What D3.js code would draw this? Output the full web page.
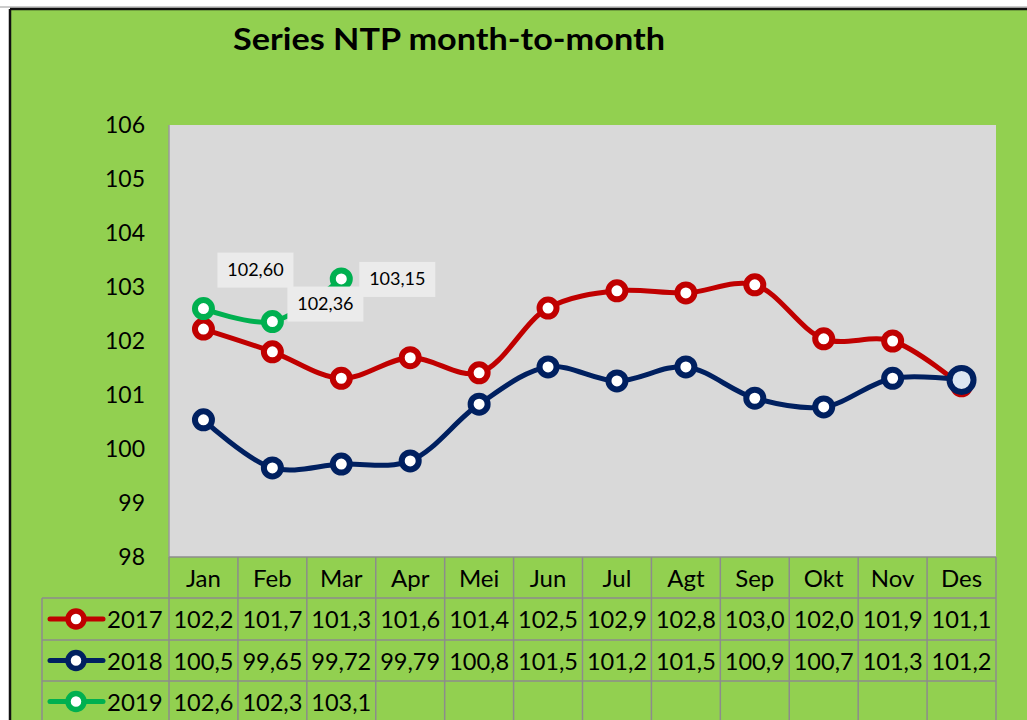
<!DOCTYPE html>
<html>
<head>
<meta charset="utf-8">
<script src="https://d3js.org/d3.v7.min.js"></script>
<style>
  body { margin: 0; background: #fff; }
  svg { display: block; font-family: Lato, "Open Sans", sans-serif; }
</style>
</head>
<body>
<script>
// chart data
var months = ["Jan", "Feb", "Mar", "Apr", "Mei", "Jun", "Jul", "Agt", "Sep", "Okt", "Nov", "Des"];
var years = ["2017", "2018", "2019"];
var v2017 = [102.22, 101.80, 101.31, 101.69, 101.41, 102.61, 102.93, 102.89, 103.04, 102.04, 102.00, 101.17];
var v2018 = [100.54, 99.65, 99.72, 99.78, 100.83, 101.52, 101.26, 101.52, 100.94, 100.78, 101.31, 101.28];
var v2019 = [102.60, 102.36, 103.15];
// table text as shown in the data table
var t2017 = ["102,2", "101,7", "101,3", "101,6", "101,4", "102,5", "102,9", "102,8", "103,0", "102,0", "101,9", "101,1"];
var t2018 = ["100,5", "99,65", "99,72", "99,79", "100,8", "101,5", "101,2", "101,5", "100,9", "100,7", "101,3", "101,2"];
var t2019 = ["102,6", "102,3", "103,1"];
var labels2019 = ["102,60", "102,36", "103,15"];
var yTicks = [98, 99, 100, 101, 102, 103, 104, 105, 106];

var W = 1027, H = 720;
var colors = ["#c00000", "#002060", "#00b050"];
var series = [v2017, v2018, v2019];
var tables = [t2017, t2018, t2019];

var svg = d3.select("body").append("svg").attr("width", W).attr("height", H);

// background + frame
svg.append("rect").attr("x", 0).attr("y", 0).attr("width", W).attr("height", H).attr("fill", "#fff");
svg.append("rect").attr("x", 10).attr("y", 9).attr("width", W).attr("height", H).attr("fill", "#92d050");
svg.append("line").attr("x1", 0).attr("x2", W).attr("y1", 7).attr("y2", 7).attr("stroke", "#bbb").attr("stroke-width", 1.5);
svg.append("line").attr("x1", 10).attr("x2", W).attr("y1", 9).attr("y2", 9).attr("stroke", "#111").attr("stroke-width", 2.5);
svg.append("line").attr("x1", 10).attr("x2", 10).attr("y1", 9).attr("y2", H).attr("stroke", "#111").attr("stroke-width", 2.5);

svg.append("text").attr("x", 233).attr("y", 50)
  .attr("font-size", 31).attr("font-weight", "bold").attr("fill", "#000")
  .attr("textLength", 432).attr("lengthAdjust", "spacingAndGlyphs")
  .text("Series NTP month-to-month");

var pLeft = 169, pRight = 996, pTop = 125, pBottom = 557;
var x = d3.scaleBand().domain(months).range([pLeft, pRight]);
var y = d3.scaleLinear().domain([98, 106]).range([pBottom, pTop]);

svg.append("rect").attr("x", pLeft).attr("y", pTop).attr("width", pRight - pLeft).attr("height", pBottom - pTop)
  .attr("fill", "#d9d9d9");
svg.append("line").attr("x1", pLeft).attr("x2", pLeft).attr("y1", pTop).attr("y2", pBottom).attr("stroke", "#9a9a9a").attr("stroke-width", 1.5);

// y axis
var yAxis = svg.append("g").attr("transform", "translate(" + (pLeft - 24) + ",0)")
  .call(d3.axisLeft(y).tickValues(yTicks).tickSize(0).tickPadding(0).tickFormat(d3.format("d")));
yAxis.select(".domain").remove();
yAxis.selectAll("text").attr("font-size", 23).attr("font-family", "Lato, sans-serif").attr("fill", "#000");

// data table
var rowY = [557, 598, 640, 681, 722];
var gridColor = "#8c8c8c";
var tbl = svg.append("g");
// header row
tbl.selectAll("text.month").data(months).enter().append("text")
  .attr("x", function(d) { return x(d) + x.bandwidth() / 2; })
  .attr("y", (rowY[0] + rowY[1]) / 2 + 9)
  .attr("text-anchor", "middle").attr("font-size", 24).text(function(d) { return d; });
// horizontal lines
tbl.selectAll("line.h").data(rowY.slice(0, 4)).enter().append("line")
  .attr("x1", function(d, i) { return i === 0 ? pLeft : 42; }).attr("x2", pRight)
  .attr("y1", function(d) { return d; }).attr("y2", function(d) { return d; })
  .attr("stroke", gridColor).attr("stroke-width", 1.5);
// vertical lines
var vx = months.map(function(m) { return x(m); }).concat([pRight]);
tbl.selectAll("line.v").data(vx).enter().append("line")
  .attr("x1", function(d) { return d; }).attr("x2", function(d) { return d; })
  .attr("y1", rowY[0]).attr("y2", H).attr("stroke", gridColor).attr("stroke-width", 1.5);
tbl.append("line").attr("x1", 42).attr("x2", 42).attr("y1", rowY[1]).attr("y2", H)
  .attr("stroke", gridColor).attr("stroke-width", 1.5);

years.forEach(function(yr, i) {
  var cy = (rowY[i + 1] + rowY[i + 2]) / 2;
  var g = tbl.append("g");
  g.append("line").attr("x1", 50).attr("x2", 103).attr("y1", cy).attr("y2", cy)
    .attr("stroke", colors[i]).attr("stroke-width", 5).attr("stroke-linecap", "round");
  g.append("circle").attr("cx", 76).attr("cy", cy).attr("r", 8).attr("fill", "#fff")
    .attr("stroke", colors[i]).attr("stroke-width", 5.5);
  g.append("text").attr("x", 107).attr("y", cy + 9).attr("font-size", 24).text(yr);
  g.selectAll("text.val").data(tables[i]).enter().append("text")
    .attr("x", function(d, j) { return x(months[j]) + x.bandwidth() / 2; })
    .attr("y", cy + 9).attr("text-anchor", "middle").attr("font-size", 24)
    .attr("textLength", function(d) { return d.length * 12; }).attr("lengthAdjust", "spacingAndGlyphs")
    .text(function(d) { return d; });
});

// lines
var line = d3.line()
  .x(function(d, i) { return x(months[i]) + x.bandwidth() / 2; })
  .y(function(d) { return y(d); })
  .curve(d3.curveCatmullRom.alpha(0.5));

series.forEach(function(s, i) {
  svg.append("path").datum(s).attr("d", line).attr("fill", "none")
    .attr("stroke", colors[i]).attr("stroke-width", 5).attr("stroke-linejoin", "round");
  svg.selectAll(null).data(s).enter().append("circle")
    .attr("cx", function(d, j) { return x(months[j]) + x.bandwidth() / 2; })
    .attr("cy", function(d) { return y(d); })
    .attr("r", function(d, j) { return (i === 1 && j === 11) ? 12 : 8.5; })
    .attr("fill", function(d, j) { return (i === 1 && j === 11) ? "#dce6f2" : "#fff"; })
    .attr("stroke", colors[i]).attr("stroke-width", 6);
});

// 2019 data labels (manually placed boxes)
var labelOffsets = [[14, -56], [15, -35], [18, -17]];
var boxW = 76, boxH = 35;
labels2019.forEach(function(t, j) {
  var px = x(months[j]) + x.bandwidth() / 2, py = y(v2019[j]);
  var bx = px + labelOffsets[j][0], by = py + labelOffsets[j][1];
  svg.append("rect").attr("x", bx).attr("y", by).attr("width", boxW).attr("height", boxH).attr("fill", "#ebebeb");
  svg.append("text").attr("x", bx + boxW / 2).attr("y", by + boxH / 2 + 6).attr("text-anchor", "middle")
    .attr("font-size", 18).attr("fill", "#000").text(t);
});
</script>
</body>
</html>
